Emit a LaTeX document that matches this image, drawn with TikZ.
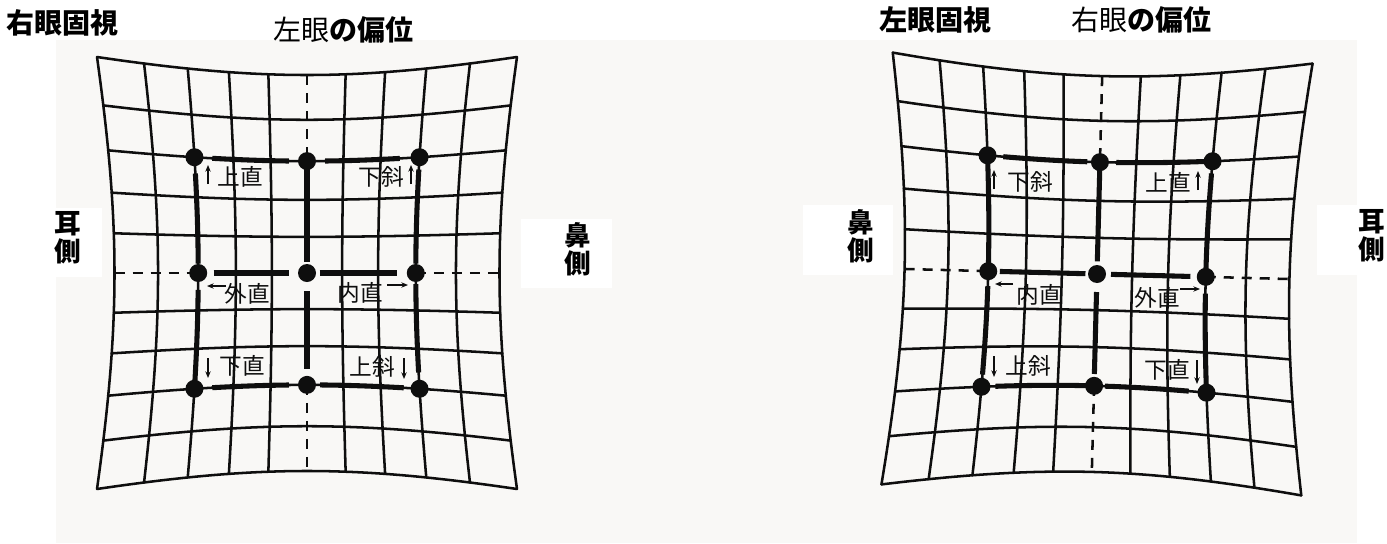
\documentclass[tikz,border=0pt]{standalone}
\usepackage{fontspec}
\newfontfamily\jpfont{Noto Sans CJK JP}
\usetikzlibrary{arrows.meta}
\definecolor{paper}{HTML}{F9F8F6}
\definecolor{ink}{HTML}{0E0E0E}
\newcommand\HessH[3]{\draw[boldln] plot[domain=#2:#3,samples=9,smooth,variable=\t] ({hx(\t,#1)},{hy(\t,#1)});}
\newcommand\HessV[3]{\draw[boldln] plot[domain=#2:#3,samples=9,smooth,variable=\t] ({hx(#1,\t)},{hy(#1,\t)});}
\newcommand\HessGrid[1]{%
  \foreach \j in {-5,-4,-3,-2,-1,1,2,3,4,5}{
    \draw[gridln] plot[domain=-5:5,samples=21,smooth,variable=\t] ({hx(\t,\j)},{hy(\t,\j)});
    \draw[gridln] plot[domain=-5:5,samples=21,smooth,variable=\t] ({hx(\j,\t)},{hy(\j,\t)});
  }
  \draw[dashln] ({hx(-5,0)},0) -- ({hx(-3,0)},0);
  \draw[dashln] ({hx(3,0)},0) -- ({hx(5,0)},0);
  \draw[dashln] (0,{hy(0,-5)}) -- (0,{hy(0,-3)});
  \draw[dashln] (0,{hy(0,3)}) -- (0,{hy(0,5)});
}
\newcommand\HessDots[1]{%
  \node[dot] (#1-tl) at ({hx(-3,-3)},{hy(-3,-3)}) {};
  \node[dot] (#1-tc) at ({hx(0,-3)},{hy(0,-3)}) {};
  \node[dot] (#1-tr) at ({hx(3,-3)},{hy(3,-3)}) {};
  \node[dot] (#1-ml) at ({hx(-3,0)},{hy(-3,0)}) {};
  \node[dot] (#1-mc) at (0,0) {};
  \node[dot] (#1-mr) at ({hx(3,0)},{hy(3,0)}) {};
  \node[dot] (#1-bl) at ({hx(-3,3)},{hy(-3,3)}) {};
  \node[dot] (#1-bc) at ({hx(0,3)},{hy(0,3)}) {};
  \node[dot] (#1-br) at ({hx(3,3)},{hy(3,3)}) {};
}
\begin{document}
\begin{tikzpicture}[x=0.75pt,y=-0.75pt,
  declare function={hx(\u,\v)=35*(\u)*(1+0.004*((\u)*(\u)+(\v)*(\v)));
                    hy(\u,\v)=36*(\v)*(1+0.004*((\u)*(\u)+(\v)*(\v)));},
  gridln/.style={line width=1.9pt, ink, line cap=round},
  boldln/.style={line width=3.8pt, ink},
  dashln/.style={line width=1.9pt, ink, dash pattern=on 7.5pt off 6pt},
  dot/.style={circle, fill=ink, inner sep=0pt, minimum size=13.5pt},
  smallarr/.style={-{Stealth[length=5pt,width=4pt]}, line width=1.2pt, ink},
  lbl/.style={font=\jpfont\fontsize{17}{17}\selectfont, inner sep=0pt, text=ink},
  ttl/.style={font=\jpfont\fontsize{21}{21}\selectfont, inner sep=0pt},
  side/.style={font=\jpfont\bfseries\fontsize{20}{21}\selectfont, inner sep=0pt, align=center},
]
\useasboundingbox (0,0) rectangle (1387,543);
\fill[white] (0,0) rectangle (1387,543);
\fill[paper] (56,40) rectangle (1357,543);

% white label boxes
\fill[white] (56,208) rectangle (102,277);
\fill[white] (521,219) rectangle (612,288);
\fill[white] (803,205) rectangle (893,275);
\fill[white] (1317,205) rectangle (1387,275);

% ---------- left grid ----------
\begin{scope}[shift={(307,273)}]
  \HessGrid{L}
  \HessH{-3}{-2.55}{-0.5} \HessH{-3}{0.5}{2.5}
  \HessH{0}{-2.6}{-0.5}   \HessH{0}{0.36}{2.5}
  \HessH{3}{-2.55}{-0.5}  \HessH{3}{0.36}{2.6}
  \HessV{-3}{-2.6}{-0.25} \HessV{-3}{0.45}{3}
  \HessV{0}{-3}{-0.3}     \HessV{0}{0.5}{2.6}
  \HessV{3}{-2.7}{-0.25}  \HessV{3}{0.3}{2.6}
  \HessDots{L}
\end{scope}

% ---------- right grid ----------
\begin{scope}[shift={(1097,274)},rotate=-1.5]
  \HessGrid{R}
  \HessH{-3}{-2.6}{-0.35} \HessH{-3}{0.45}{2.8}
  \HessH{0}{-2.7}{-0.33}  \HessH{0}{0.4}{2.6}
  \HessH{3}{-2.65}{-0.2}  \HessH{3}{0.3}{2.55}
  \HessV{-3}{-3}{0}       \HessV{-3}{0.4}{2.7}
  \HessV{0}{-3}{-0.35}    \HessV{0}{0.5}{2.7}
  \HessV{3}{-2.7}{-0.2}   \HessV{3}{0.45}{3}
  \HessDots{R}
\end{scope}

% ---------- titles ----------
\node[ttl,font=\jpfont\bfseries\fontsize{21}{21}\selectfont] (t1) at (63,23) {右眼固視};
\node[ttl] (t2) at (343,30) {左眼{\bfseries の偏位}};
\node[ttl,font=\jpfont\bfseries\fontsize{21}{21}\selectfont] (t3) at (935,20) {左眼固視};
\node[ttl] (t4) at (1141,20) {右眼{\bfseries の偏位}};

% ---------- side labels ----------
\node[side] (ear1) at (68,238) {耳\\側};
\node[side] (nose1) at (578,249) {鼻\\側};
\node[side] (nose2) at (861,236) {鼻\\側};
\node[side] (ear2) at (1372,236) {耳\\側};

% ---------- left grid labels ----------
\node[lbl] (l1) at (240,177) {上直};
\coordinate (a1s) at (208,184); \coordinate (a1e) at (208,165);
\draw[smallarr] (a1s) -- (a1e);
\node[lbl] (l2) at (381,177) {下斜};
\coordinate (a2s) at (411,184); \coordinate (a2e) at (411,165);
\draw[smallarr] (a2s) -- (a2e);
\node[lbl] (l3) at (247,294) {外直};
\coordinate (a3s) at (226,286); \coordinate (a3e) at (207,286);
\draw[smallarr] (a3s) -- (a3e);
\node[lbl] (l4) at (360,293) {内直};
\coordinate (a4s) at (387,285); \coordinate (a4e) at (408,285);
\draw[smallarr] (a4s) -- (a4e);
\node[lbl] (l5) at (242,366) {下直};
\coordinate (a5s) at (208,358); \coordinate (a5e) at (208,378);
\draw[smallarr] (a5s) -- (a5e);
\node[lbl] (l6) at (372,367) {上斜};
\coordinate (a6s) at (404,358); \coordinate (a6e) at (404,379);
\draw[smallarr] (a6s) -- (a6e);

% ---------- right grid labels ----------
\node[lbl] (r1) at (1030,182) {下斜};
\coordinate (b1s) at (994,189); \coordinate (b1e) at (994,170);
\draw[smallarr] (b1s) -- (b1e);
\node[lbl] (r2) at (1168,183) {上直};
\coordinate (b2s) at (1198,190); \coordinate (b2e) at (1198,171);
\draw[smallarr] (b2s) -- (b2e);
\node[lbl] (r3) at (1039,295) {内直};
\coordinate (b3s) at (1013,284); \coordinate (b3e) at (995,284);
\draw[smallarr] (b3s) -- (b3e);
\node[lbl] (r4) at (1157,298) {外直};
\coordinate (b4s) at (1180,289); \coordinate (b4e) at (1200,289);
\draw[smallarr] (b4s) -- (b4e);
\node[lbl] (r5) at (1028,366) {上斜};
\coordinate (b5s) at (994,356); \coordinate (b5e) at (994,377);
\draw[smallarr] (b5s) -- (b5e);
\node[lbl] (r6) at (1167,370) {下直};
\coordinate (b6s) at (1197,360); \coordinate (b6e) at (1197,384);
\draw[smallarr] (b6s) -- (b6e);
\end{tikzpicture}
\end{document}
